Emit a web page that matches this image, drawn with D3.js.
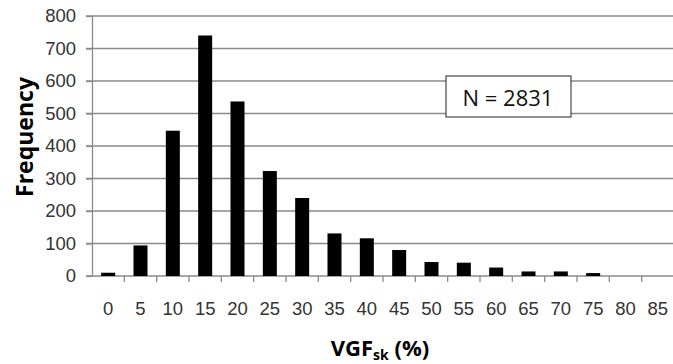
<!DOCTYPE html>
<html>
<head>
<meta charset="utf-8">
<script src="https://cdn.jsdelivr.net/npm/d3@7"></script>
<style>
  html, body { margin: 0; padding: 0; background: #fff; }
  svg { display: block; }
</style>
</head>
<body>
<svg id="chart" width="673" height="364"></svg>
<script>
// Histogram of VGF_sk (%) bins
const categories = ["0","5","10","15","20","25","30","35","40","45","50","55","60","65","70","75","80","85"];
const frequencies = [10, 94, 447, 740, 537, 323, 240, 131, 116, 80, 43, 41, 26, 14, 14, 9, 0, 0];
const yTicks = [0, 100, 200, 300, 400, 500, 600, 700, 800];
const sampleLabel = "N = 2831";

const svg = d3.select("#chart");
const plotLeft = 92, plotRight = 674, plotTop = 16, plotBottom = 276;

const x = d3.scaleBand().domain(categories).range([plotLeft, plotRight]).paddingInner(0).paddingOuter(0);
const y = d3.scaleLinear().domain([0, 800]).range([plotBottom, plotTop]);

const gridColor = "#8a8a8a";
const tickTextColor = "#333";
const tickFont = "Liberation Sans, Arial, sans-serif";

// horizontal gridlines
svg.append("g")
  .selectAll("line")
  .data(yTicks.filter(d => d > 0))
  .join("line")
  .attr("x1", plotLeft - 6).attr("x2", 673)
  .attr("y1", d => y(d)).attr("y2", d => y(d))
  .attr("stroke", gridColor).attr("stroke-width", 1.3);

// y axis
const yAxis = svg.append("g")
  .attr("transform", `translate(${plotLeft},0)`)
  .call(d3.axisLeft(y).tickValues(yTicks).tickSize(6).tickSizeOuter(0).tickPadding(10));
yAxis.select(".domain").attr("stroke", gridColor).attr("stroke-width", 1.3);
yAxis.selectAll(".tick line").attr("stroke", gridColor).attr("stroke-width", 1.3);
yAxis.selectAll(".tick text")
  .attr("font-family", tickFont)
  .attr("font-size", 18.5)
  .attr("fill", tickTextColor);

// x axis: ticks at bin boundaries
const boundaries = categories.slice(1).map(c => x(c));
const xg = svg.append("g");
xg.append("line")
  .attr("x1", plotLeft - 6).attr("x2", 673)
  .attr("y1", plotBottom).attr("y2", plotBottom)
  .attr("stroke", gridColor).attr("stroke-width", 1.3);
xg.selectAll("line.tk")
  .data(boundaries)
  .join("line")
  .attr("class", "tk")
  .attr("x1", d => d).attr("x2", d => d)
  .attr("y1", plotBottom).attr("y2", plotBottom + 6)
  .attr("stroke", gridColor).attr("stroke-width", 1.3);
xg.selectAll("text")
  .data(categories)
  .join("text")
  .attr("x", d => x(d) + x.bandwidth() / 2)
  .attr("y", 315)
  .attr("text-anchor", "middle")
  .attr("font-family", tickFont)
  .attr("font-size", 18.5)
  .attr("fill", tickTextColor)
  .text(d => d);

// bars
const barW = 14;
svg.append("g")
  .selectAll("rect")
  .data(categories.map((c, i) => ({ c, v: frequencies[i] })).filter(d => d.v > 0))
  .join("rect")
  .attr("x", d => x(d.c) + x.bandwidth() / 2 - barW / 2)
  .attr("width", barW)
  .attr("y", d => y(d.v))
  .attr("height", d => y(0) - y(d.v))
  .attr("fill", "#000");

// sample size box
const box = svg.append("g");
box.append("rect")
  .attr("x", 446).attr("y", 76).attr("width", 125).attr("height", 41)
  .attr("fill", "#fff").attr("stroke", "#222").attr("stroke-width", 1);
box.append("text")
  .attr("x", 508).attr("y", 106)
  .attr("text-anchor", "middle")
  .attr("font-family", "Open Sans, sans-serif")
  .attr("font-size", 22)
  .attr("fill", "#111")
  .text(sampleLabel);

// y title
svg.append("text")
  .attr("transform", "translate(33,137) rotate(-90)")
  .attr("text-anchor", "middle")
  .attr("font-family", "Open Sans, sans-serif")
  .attr("font-weight", "bold")
  .attr("font-size", 23)
  .attr("fill", "#000")
  .text("Frequency");

// x title with subscript
const xt = svg.append("text")
  .attr("x", 380).attr("y", 356)
  .attr("text-anchor", "middle")
  .attr("font-family", "Open Sans, sans-serif")
  .attr("font-weight", "bold")
  .attr("font-size", 22)
  .attr("fill", "#000");
xt.append("tspan").text("VGF");
xt.append("tspan").attr("font-size", 14).attr("dy", 4).text("sk");
xt.append("tspan").attr("dy", -4).text(" (%)");
</script>
</body>
</html>
